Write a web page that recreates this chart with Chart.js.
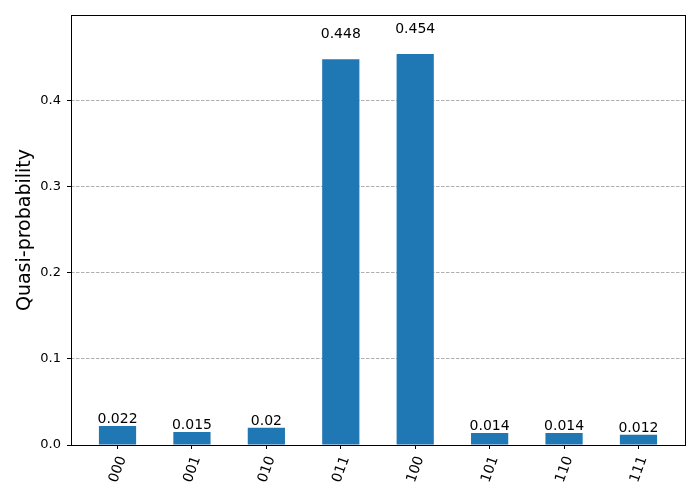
<!DOCTYPE html>
<html>
<head>
<meta charset="utf-8">
<script src="https://cdn.jsdelivr.net/npm/chart.js@4/dist/chart.umd.min.js"></script>
<style>
html,body{margin:0;padding:0;background:#fff;}
#wrap{width:700px;height:500px;}
</style>
</head>
<body>
<div id="wrap"><canvas id="c" width="700" height="500"></canvas></div>
<script>
const categories = ["000", "001", "010", "011", "100", "101", "110", "111"];
const values = [0.022, 0.015, 0.02, 0.448, 0.454, 0.014, 0.014, 0.012];
const yTicks = [0, 0.1, 0.2, 0.3, 0.4];
const yMax = 0.454 * 1.1;
const yTitle = "Quasi-probability";

Chart.defaults.font.family = "'DejaVu Sans', sans-serif";
Chart.defaults.color = "#000";

const points = values.map((v, i) => ({x: i, y: v}));

const overlay = {
  id: 'overlay',
  afterDatasetsDraw(chart) {
    const ctx = chart.ctx;
    const xs = chart.scales.x, ys = chart.scales.y;
    ctx.save();
    ctx.font = "14px 'DejaVu Sans'";
    ctx.fillStyle = "#000";
    ctx.textAlign = "center";
    ctx.textBaseline = "alphabetic";
    values.forEach((v, i) => {
      ctx.fillText(String(v), xs.getPixelForValue(i), ys.getPixelForValue(v * 1.05) - 2);
    });
    const a = chart.chartArea;
    ctx.strokeStyle = "#000";
    ctx.lineWidth = 1;
    ctx.strokeRect(Math.round(a.left) + 0.5, Math.round(a.top) + 0.5, Math.round(a.right - a.left), Math.round(a.bottom - a.top));
    ctx.restore();
  }
};

new Chart(document.getElementById('c'), {
  type: 'bar',
  data: {
    datasets: [{
      data: points,
      backgroundColor: '#1f77b4',
      borderWidth: 0,
      barPercentage: 0.5,
      categoryPercentage: 1.0
    }]
  },
  options: {
    responsive: false,
    animation: false,
    layout: {padding: {left: 0, top: 15, right: 15, bottom: 0}},
    plugins: {legend: {display: false}, tooltip: {enabled: false}},
    scales: {
      x: {
        type: 'linear',
        min: -0.625,
        max: 7.625,
        offset: false,
        afterBuildTicks(axis) { axis.ticks = categories.map((_, i) => ({value: i})); },
        afterFit(axis) { axis.height = 55; axis.paddingLeft = 0; axis.paddingRight = 0; },
        ticks: {
          callback: (v) => categories[v],
          minRotation: 70,
          maxRotation: 70,
          autoSkip: false,
          padding: 5,
          labelOffset: 5,
          font: {size: 14}
        },
        grid: {
          offset: false,
          color: 'rgba(0,0,0,0)',
          tickColor: '#000',
          tickLength: 4,
          drawOnChartArea: false
        },
        border: {display: false}
      },
      y: {
        min: 0,
        max: yMax,
        afterBuildTicks(axis) { axis.ticks = yTicks.map(v => ({value: v})); },
        afterFit(axis) { axis.width = 71; },
        ticks: {
          callback: (v) => v.toFixed(1),
          padding: 6,
          font: {size: 13}
        },
        grid: {
          color: '#b0b0b0',
          lineWidth: 1,
          tickColor: '#000',
          tickBorderDash: [],
          tickLength: 4
        },
        border: {display: false, dash: [3.5, 1.5]},
        title: {
          display: true,
          text: yTitle,
          font: {size: 19},
          padding: {top: 14, bottom: 0}
        }
      }
    }
  },
  plugins: [overlay]
});
</script>
</body>
</html>
